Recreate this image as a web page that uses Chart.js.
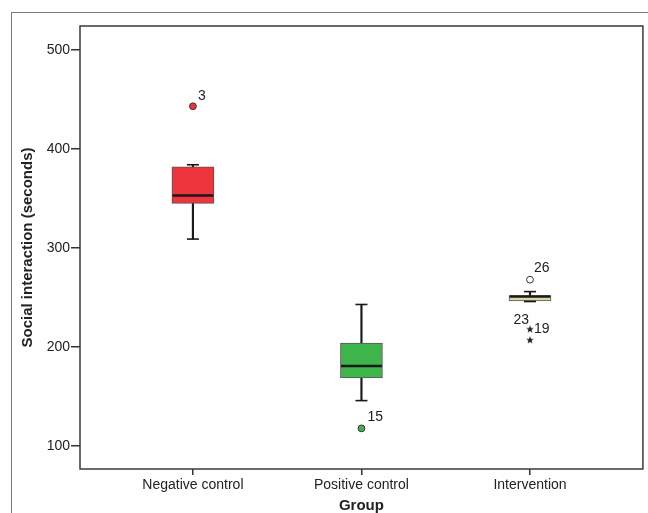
<!DOCTYPE html>
<html>
<head>
<meta charset="utf-8">
<script src="https://cdn.jsdelivr.net/npm/chart.js@4.4.1/dist/chart.umd.min.js"></script>
<style>
  html, body { margin: 0; padding: 0; background: #fff; overflow: hidden; }
  #wrap { position: relative; width: 648px; height: 513px; overflow: hidden; }
  #frame { position: absolute; left: 11px; top: 12px; right: -5px; bottom: -5px;
           border-top: 1.5px solid #7a7a7a; border-left: 1.5px solid #7a7a7a; }
  canvas { position: absolute; left: 0; top: 0; }
</style>
</head>
<body>
<div id="wrap">
  <div id="frame"></div>
  <canvas id="c" width="648" height="513"></canvas>
</div>
<script>
// ---- data ----
const categories = ["Negative control", "Positive control", "Intervention"];
const whiskerLow  = [309, 146, 246];
const q1          = [345, 169, 246.5];
const median      = [353, 181, 251];
const q3          = [382, 204, 252];
const whiskerHigh = [384, 243, 256];
// outliers (circles) and extremes (stars)
const outlierCircleGroups = [0, 1, 2];
const outlierCircleValues = [443, 118, 268];
const outlierCircleLabels = ["3", "15", "26"];
const extremeGroups = [2, 2];
const extremeValues = [218, 207];
const extremeLabels = ["19", "23"];
const yTicks = [100, 200, 300, 400, 500];

// ---- styles ----
const boxColors = ["#EE343C", "#3DB54B", "#D9D6A0"];
const circleFill = ["#E8343C", "#3DB54B", "#FFFFFF"];
const labelStyle = {
  "3":  {dx: 5, dy: -10, align: "left"},
  "15": {dx: 6, dy: -11, align: "left"},
  "26": {dx: 4, dy: -12, align: "left"},
  "19": {dx: 4, dy: 0,   align: "left"},
  "23": {dx: -1, dy: -20, align: "right"}
};
const FONT = '"Liberation Sans", Arial, sans-serif';
const TARGET_RIGHT = 643;

function makeStar(size) {
  const cv = document.createElement('canvas');
  cv.width = size; cv.height = size;
  const g = cv.getContext('2d');
  const cx = size / 2, cy = size / 2, R = size / 2, r = R * 0.42;
  g.beginPath();
  for (let i = 0; i < 10; i++) {
    const ang = -Math.PI / 2 + i * Math.PI / 5;
    const rad = i % 2 === 0 ? R : r;
    const px = cx + rad * Math.cos(ang), py = cy + rad * Math.sin(ang);
    if (i === 0) g.moveTo(px, py); else g.lineTo(px, py);
  }
  g.closePath();
  g.fillStyle = '#222';
  g.fill();
  return cv;
}
const starImg = makeStar(8);

const pos = categories.map((c, i) => i + 1);

function makeDatasets() {
  const datasets = [];
  datasets.push({
    type: 'bar', order: 5, grouped: false,
    data: pos.map((x, i) => ({x: x, y: [whiskerLow[i], whiskerHigh[i]]})),
    backgroundColor: '#1a1a1a', borderWidth: 0, barThickness: 1.5
  });
  datasets.push({
    type: 'bar', order: 4, grouped: false,
    data: pos.map((x, i) => ({x: x, y: [q1[i], q3[i]]})),
    backgroundColor: boxColors, borderColor: '#555', borderWidth: 1,
    borderSkipped: false, barThickness: 42
  });
  datasets.push({
    type: 'line', order: 3, showLine: false,
    data: pos.map((x, i) => ({x: x, y: whiskerHigh[i]})).concat(
          pos.map((x, i) => ({x: x, y: whiskerLow[i]}))),
    pointStyle: 'line', pointRadius: 6, pointBorderWidth: 1.6, pointBorderColor: '#1a1a1a'
  });
  datasets.push({
    type: 'line', order: 2, showLine: false,
    data: pos.map((x, i) => ({x: x, y: median[i]})),
    pointStyle: 'line', pointRadius: 20.5, pointBorderWidth: 2.6, pointBorderColor: '#1a1a1a'
  });
  datasets.push({
    type: 'line', order: 1, showLine: false,
    data: outlierCircleGroups.map((g, i) => ({x: pos[g], y: outlierCircleValues[i]})),
    pointStyle: 'circle', pointRadius: 3.4, pointBorderWidth: 1,
    pointBackgroundColor: outlierCircleGroups.map((g, i) => circleFill[i]),
    pointBorderColor: '#333',
    outlierLabels: outlierCircleLabels
  });
  datasets.push({
    type: 'line', order: 1, showLine: false,
    data: extremeGroups.map((g, i) => ({x: pos[g], y: extremeValues[i]})),
    pointStyle: starImg, pointRadius: 4,
    outlierLabels: extremeLabels
  });
  return datasets;
}

const frameAndLabels = {
  id: 'frameAndLabels',
  afterDatasetsDraw(chart) {
    const ctx = chart.ctx;
    ctx.save();
    ctx.font = '14px ' + FONT;
    ctx.fillStyle = '#222';
    ctx.textBaseline = 'middle';
    chart.data.datasets.forEach((ds, di) => {
      if (!ds.outlierLabels) return;
      const meta = chart.getDatasetMeta(di);
      meta.data.forEach((el, j) => {
        const lab = ds.outlierLabels[j];
        const st = labelStyle[lab] || {dx: 5, dy: 0, align: 'left'};
        ctx.textAlign = st.align;
        ctx.fillText(lab, el.x + st.dx, el.y + st.dy);
      });
    });
    ctx.restore();
  },
  afterDraw(chart) {
    const {ctx, chartArea: a} = chart;
    ctx.save();
    ctx.strokeStyle = '#3a3a3a';
    ctx.lineWidth = 1.5;
    ctx.strokeRect(a.left, a.top, a.right - a.left, a.bottom - a.top);
    ctx.restore();
  }
};

function makeConfig() {
  return {
    type: 'bar',
    data: { datasets: makeDatasets() },
    plugins: [frameAndLabels],
    options: {
      responsive: false,
      animation: false,
      events: [],
      layout: { padding: { top: 26, right: 5, left: 0, bottom: 0 } },
      plugins: { legend: { display: false }, tooltip: { enabled: false } },
      scales: {
        x: {
          type: 'linear', min: 0.33, max: 3.67, offset: false,
          afterBuildTicks: (s) => { s.ticks = pos.map(v => ({value: v})); },
          afterFit: (s) => { s.height = 44; s.paddingLeft = 0; s.paddingRight = 0; },
          ticks: {
            callback: (v) => categories[v - 1],
            font: { family: FONT, size: 14 },
            color: '#222', padding: 2, maxRotation: 0, autoSkip: false
          },
          grid: { offset: false, drawOnChartArea: false, drawTicks: true, tickLength: 6, color: '#333', lineWidth: 1.5 },
          border: { display: false },
          title: {
            display: true, text: 'Group', color: '#222',
            font: { family: FONT, size: 15, weight: 'bold', lineHeight: 1.0 },
            padding: { top: 0, bottom: 0 }
          }
        },
        y: {
          type: 'linear', min: 77, max: 524,
          afterBuildTicks: (s) => { s.ticks = yTicks.map(v => ({value: v})); },
          afterFit: (s) => { s.width = 80; },
          ticks: {
            font: { family: FONT, size: 14 },
            color: '#222', padding: 1
          },
          grid: { drawOnChartArea: false, drawTicks: true, tickLength: 9, color: '#333', lineWidth: 1.5 },
          border: { display: false },
          title: {
            display: true, text: 'Social interaction (seconds)', color: '#222',
            font: { family: FONT, size: 15, weight: 'bold', lineHeight: 1.2 },
            padding: { top: 19, bottom: 0 }
          }
        }
      }
    }
  };
}

const canvas = document.getElementById('c');
let chart = new Chart(canvas, makeConfig());
const diff = TARGET_RIGHT - chart.chartArea.right;
if (Math.abs(diff) > 0.5) {
  chart.destroy();
  const w = Math.round(648 + diff);
  canvas.width = w;
  canvas.height = 513;
  canvas.style.width = w + 'px';
  canvas.style.height = '513px';
  chart = new Chart(canvas, makeConfig());
}
</script>
</body>
</html>
